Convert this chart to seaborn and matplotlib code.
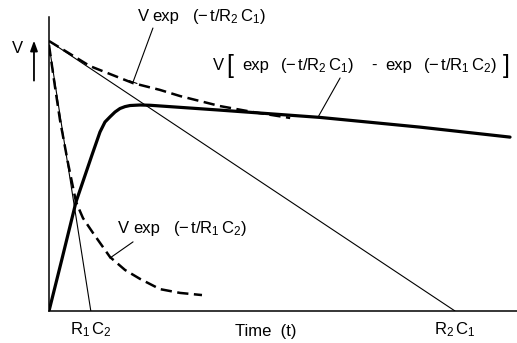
import matplotlib
matplotlib.use("Agg")
import matplotlib.pyplot as plt
import pandas as pd
import seaborn as sns

# time constants marked on the time axis
r1c2 = 1.03
r2c1 = 10.0

# V exp(-t/R2C1): slow decay
slow_t = [0.0, 0.76, 1.01, 1.75, 2.07, 2.73, 3.23, 4.21, 5.02, 5.94]
slow_v = [1.0, 0.930, 0.907, 0.863, 0.844, 0.819, 0.796, 0.759, 0.737, 0.715]

# V exp(-t/R1C2): fast decay
fast_t = [0.0, 0.148, 0.271, 0.468, 0.665, 0.837, 1.084, 1.502, 1.872, 2.241, 2.734, 3.227, 3.768]
fast_v = [0.985, 0.830, 0.707, 0.548, 0.404, 0.344, 0.289, 0.200, 0.152, 0.119, 0.081, 0.067, 0.059]

# difference of the two exponentials
diff_t = [0.0, 0.320, 0.665, 1.059, 1.256, 1.379, 1.502, 1.626, 1.749, 1.872, 1.995,
          2.241, 2.488, 4.212, 6.675, 9.138, 11.355]
diff_v = [0.0, 0.193, 0.404, 0.578, 0.663, 0.700, 0.719, 0.737, 0.750, 0.757, 0.761,
          0.763, 0.762, 0.744, 0.717, 0.681, 0.644]

tick_pos = [r1c2, r2c1]
tick_labels = [r"$R_1\,C_2$", r"$R_2\,C_1$"]

sns.set_theme(style="white")
plt.rcParams["font.family"] = ["Liberation Sans", "DejaVu Sans"]
plt.rcParams["mathtext.fontset"] = "custom"
plt.rcParams["mathtext.rm"] = "Liberation Sans"
plt.rcParams["mathtext.it"] = "Liberation Sans"
plt.rcParams["mathtext.default"] = "regular"

W, H = 517, 343
FS = 12.0
fig = plt.figure(figsize=(W / 100, H / 100), dpi=100)
ax = fig.add_axes([49 / W, 32 / H, 468 / W, 294 / H])

slow = pd.DataFrame({"t": slow_t, "v": slow_v})
fast = pd.DataFrame({"t": fast_t, "v": fast_v})
diff = pd.DataFrame({"t": diff_t, "v": diff_v})

# tangents at t = 0
sns.lineplot(x=[0.0, r2c1], y=[slow_v[0], 0.0], ax=ax, color="black", lw=0.8)
sns.lineplot(x=[0.0, r1c2], y=[fast_v[0], 0.0], ax=ax, color="black", lw=0.8)

sns.lineplot(data=slow, x="t", y="v", ax=ax, color="black", lw=1.8, ls=(0, (4.5, 2.2)))
sns.lineplot(data=fast, x="t", y="v", ax=ax, color="black", lw=1.8, ls=(0, (4.5, 2.2)))
sns.lineplot(data=diff, x="t", y="v", ax=ax, color="black", lw=2.3,
             solid_capstyle="round", solid_joinstyle="round")

ax.set_xlim(0, 468 / 40.6)
ax.set_ylim(0, 294 / 270)
sns.despine(ax=ax)
for side in ("left", "bottom"):
    ax.spines[side].set_color("black")
    ax.spines[side].set_linewidth(1.1)

ax.set_yticks([])
ax.set_ylabel("")
ax.set_xticks(tick_pos, tick_labels)
ax.tick_params(axis="x", length=0, pad=7, labelsize=FS, colors="black")
ax.set_xlabel("Time  (t)", fontsize=FS, color="black")
ax.xaxis.label.set_va("baseline")
ax.xaxis.set_label_coords((265.5 - 49) / 468, -(336 - 311) / 294)


def put(x_px, y_px, s, size=FS):
    """Place text with its left end and baseline at a pixel position."""
    fig.text(x_px / W, 1 - y_px / H, s, fontsize=size, ha="left", va="baseline",
             color="black")


def leader(p0, p1, style="-"):
    ax.annotate("", xy=p1, xytext=p0, annotation_clip=False,
                arrowprops=dict(arrowstyle=style, color="black", lw=0.8,
                                shrinkA=0, shrinkB=0))


ARG2 = r"$(-\,t/R_2\,C_1)$"
ARG1 = r"$(-\,t/R_1\,C_2)$"

# "V" with upward arrow beside the axis
put(12, 53, "V")
ax.annotate("", xy=(-0.37, 1.012), xytext=(-0.37, 0.843),
            arrowprops=dict(arrowstyle="-|>,head_length=0.5,head_width=0.18",
                            color="black", lw=1.3), annotation_clip=False)

# label of the slow exponential
put(138, 21, "V")
put(152, 21, "exp")
put(192, 21, ARG2)
leader((2.56, 1.048), (2.07, 0.848), "-[,widthB=0.25,lengthB=0")

# label of the difference curve
put(213, 70, "V")
put(226, 73, "[", size=18)
put(242, 70, "exp")
put(280, 70, ARG2)
put(371, 70, "-")
put(385, 70, "exp")
put(423, 70, ARG1)
put(503, 73, "]", size=18)
leader((7.17, 0.863), (6.63, 0.719))

# label of the fast exponential
put(118, 233, "V")
put(133, 233, "exp")
put(173, 233, ARG1)
leader((2.07, 0.256), (1.50, 0.196))

fig.savefig("out.png", dpi=100)
